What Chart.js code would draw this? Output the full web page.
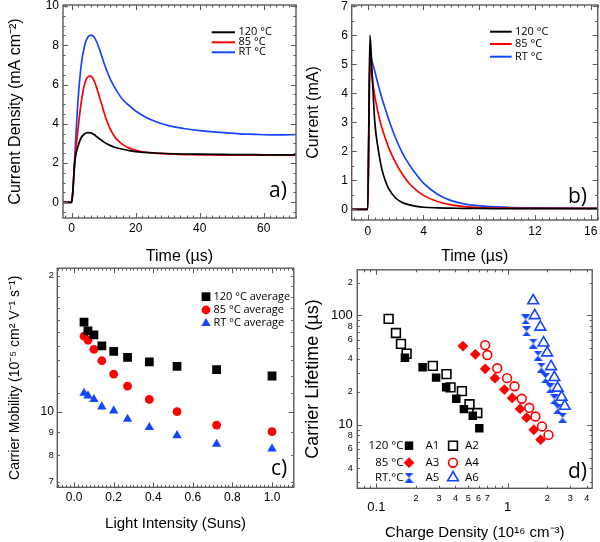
<!DOCTYPE html>
<html>
<head>
<meta charset="utf-8">
<script src="https://cdn.jsdelivr.net/npm/chart.js@4.4.1/dist/chart.umd.min.js"></script>
<style>
  html, body { margin: 0; padding: 0; background: #fff; }
  #wrap { position: relative; width: 600px; height: 542px; overflow: hidden; }
  #wrap canvas { position: absolute; }
</style>
</head>
<body>
<div id="wrap">
  <canvas id="panelA" width="300" height="270" style="left:0;top:0"></canvas>
  <canvas id="panelB" width="300" height="270" style="left:300px;top:0"></canvas>
  <canvas id="panelC" width="300" height="280" style="left:0;top:262px"></canvas>
  <canvas id="panelD" width="300" height="280" style="left:300px;top:262px"></canvas>
</div>
<script>
// ---------- shared names ----------
const SERIES_NAMES = ['120 °C', '85 °C', 'RT °C'];
const C_SERIES_NAMES = ['120 °C average', '85 °C average', 'RT °C average'];
const D_ROW_NAMES = ['120 °C', '85 °C', 'RT.°C'];
const D_SAMPLE_NAMES = ['A1', 'A2', 'A3', 'A4', 'A5', 'A6'];

// ---------- panel a: current density transients ----------
const A_TIME = [-3, 0, 0.3, 1, 2, 3, 4, 5, 6, 7, 8, 9, 10, 11, 12, 13, 14, 16, 18, 20, 23, 26, 30, 35, 40, 45, 50, 55, 60, 65, 70];
const A_J_120 = [0, 0, 0.4, 2.1, 2.85, 3.3, 3.48, 3.55, 3.54, 3.45, 3.32, 3.2, 3.08, 2.98, 2.9, 2.83, 2.78, 2.7, 2.63, 2.58, 2.54, 2.51, 2.48, 2.46, 2.45, 2.44, 2.43, 2.43, 2.42, 2.42, 2.42];
const A_J_85 = [0, 0, 0.4, 2.1, 3.75, 5.1, 6.0, 6.38, 6.43, 6.2, 5.75, 5.2, 4.65, 4.15, 3.75, 3.45, 3.22, 2.94, 2.76, 2.65, 2.55, 2.5, 2.46, 2.43, 2.42, 2.41, 2.4, 2.4, 2.4, 2.4, 2.4];
const A_J_RT = [0, 0, 0.4, 2.4, 5.2, 7.0, 7.95, 8.4, 8.52, 8.42, 8.1, 7.65, 7.15, 6.7, 6.3, 5.98, 5.7, 5.22, 4.92, 4.65, 4.35, 4.13, 3.92, 3.76, 3.65, 3.57, 3.52, 3.47, 3.44, 3.43, 3.45];
const A_X_TICKS = [0, 20, 40, 60];
const A_Y_TICKS = [0, 2, 4, 6, 8, 10];

// ---------- panel b: current transients ----------
const B_TIME = [-1.2, 0, 0.08, 0.16, 0.3, 0.5, 0.75, 1, 1.25, 1.5, 2, 2.5, 3, 3.5, 4, 5, 6, 7, 8, 10, 12, 14, 16.5];
const B_I_120 = [0, 0, 3.0, 6.0, 4.85, 3.05, 2.08, 1.41, 1.0, 0.71, 0.39, 0.23, 0.15, 0.1, 0.07, 0.05, 0.04, 0.03, 0.03, 0.02, 0.02, 0.02, 0.02];
const B_I_85 = [0, 0, 2.6, 5.2, 4.6, 3.93, 3.31, 2.84, 2.47, 2.13, 1.61, 1.2, 0.88, 0.65, 0.48, 0.27, 0.15, 0.09, 0.06, 0.04, 0.03, 0.03, 0.03];
const B_I_RT = [0, 0, 2.7, 5.4, 5.12, 4.78, 4.3, 3.87, 3.48, 3.11, 2.46, 1.93, 1.53, 1.19, 0.9, 0.52, 0.3, 0.18, 0.12, 0.07, 0.05, 0.04, 0.03];
const B_X_TICKS = [0, 4, 8, 12, 16];
const B_Y_TICKS = [0, 1, 2, 3, 4, 5, 6, 7];

// ---------- panel c: mobility vs light intensity ----------
const C_SUNS = [0.05, 0.07, 0.1, 0.14, 0.2, 0.27, 0.38, 0.52, 0.72, 1.0];
const C_MU_120 = [15.8, 15.1, 14.8, 14.0, 13.6, 13.2, 12.9, 12.6, 12.4, 12.0];
const C_MU_85 = [14.7, 14.4, 13.75, 12.97, 12.12, 11.4, 10.65, 10.0, 9.34, 9.03];
const C_MU_RT = [11.0, 10.85, 10.65, 10.26, 10.05, 9.63, 9.23, 8.86, 8.48, 8.28];
const C_X_TICKS = [0, 0.2, 0.4, 0.6, 0.8, 1.0];
const C_X_LABELS = ['0.0', '0.2', '0.4', '0.6', '0.8', '1.0'];
const C_Y_TICKS = [7, 8, 9, 10, 20];
const C_Y_LABELS = ['7', '8', '9', '10', '2'];
const C_Y_BIG = [10];

// ---------- panel d: lifetime vs charge density ----------
const D_A1_N = [0.165, 0.225, 0.285, 0.34, 0.406, 0.464, 0.542, 0.608];
const D_A1_TAU = [41.1, 33.6, 27.0, 22.0, 17.3, 13.9, 12.1, 9.3];
const D_A2_N = [0.124, 0.141, 0.154, 0.170, 0.269, 0.342, 0.367, 0.448, 0.512, 0.587];
const D_A2_TAU = [93.2, 69.2, 55.0, 44.7, 34.6, 29.1, 22.0, 20.3, 15.4, 12.8];
const D_A3_N = [0.456, 0.567, 0.674, 0.80, 0.943, 1.082, 1.242, 1.393, 1.58, 1.78];
const D_A3_TAU = [52.5, 44.1, 32.5, 26.7, 21.0, 17.6, 14.0, 11.6, 9.0, 7.3];
const D_A4_N = [0.674, 0.70, 0.832, 0.988, 1.128, 1.279, 1.46, 1.627, 1.824, 2.045];
const D_A4_TAU = [53.6, 43.5, 32.9, 26.7, 22.5, 17.3, 14.3, 11.9, 9.65, 8.07];
const D_A5_N = [1.37, 1.393, 1.563, 1.703, 1.803, 1.94, 2.10, 2.266, 2.40, 2.618];
const D_A5_TAU = [92.0, 71.7, 55.4, 42.9, 33.4, 26.7, 21.5, 17.1, 14.0, 11.6];
const D_A6_N = [1.563, 1.607, 1.772, 1.876, 2.0, 2.141, 2.266, 2.40, 2.573, 2.72];
const D_A6_TAU = [136.6, 100, 78.4, 56.2, 45.6, 34.1, 27.1, 21.7, 17.9, 14.8];
const D_X_TICKS = [0.1, 0.2, 0.3, 0.4, 0.5, 0.6, 0.7, 1, 2, 3, 4];
const D_X_LABELS = ['0.1', '2', '3', '4', '5', '6', '7', '1', '2', '3', '4'];
const D_X_BIG = [0.1, 1];
const D_Y_TICKS = [4, 6, 8, 10, 20, 40, 60, 80, 100, 200];
const D_Y_LABELS = ['4', '6', '8', '10', '2', '4', '6', '8', '100', '2'];
const D_Y_BIG = [10, 100];

// ---------- styling ----------
const SANS = "'Liberation Sans', Arial, sans-serif";
const LEGEND_SANS = "'Open Sans', 'Liberation Sans', sans-serif";
const FRAME_COLOR = '#5a5a5a';
const BLACK = '#000000';
const RED = '#ff0000';
const BLUE = '#1446ff';
const TICK_FONT = { family: SANS, size: 12, weight: 'normal' };
const SMALL_TICK_FONT = { family: SANS, size: 9, weight: 'normal', lineHeight: 1.2 };
const TITLE_FONT = { family: SANS, size: 16, weight: 'normal' };

Chart.defaults.font.family = SANS;
Chart.defaults.color = '#000';

function range(start, stop, step) {
  const out = [];
  for (let v = start; v <= stop + step / 1000; v += step) out.push(+v.toFixed(6));
  return out;
}

function pts(xs, ys) {
  return xs.map((x, i) => ({ x: x, y: ys[i] }));
}

// hourglass marker used for sample A5
function hourglass(color, w, h) {
  const c = document.createElement('canvas');
  c.width = w; c.height = h;
  const g = c.getContext('2d');
  g.fillStyle = color;
  g.beginPath();
  g.moveTo(0, 0); g.lineTo(w, 0); g.lineTo(w / 2, h / 2);
  g.lineTo(w, h); g.lineTo(0, h); g.lineTo(w / 2, h / 2);
  g.closePath();
  g.fill();
  return c;
}

/**
 * Axis with fixed box size and ticks taken from the given arrays
 */
function axis(o) {
  return {
    type: o.type || 'linear',
    min: o.min,
    max: o.max,
    bounds: 'data',
    grid: { display: false, drawTicks: false, tickLength: 0 },
    border: { display: false },
    afterBuildTicks: s => { s.ticks = o.ticks.map(v => ({ value: v })); },
    afterFit: s => {
      if (s.isHorizontal()) s.height = o.size; else s.width = o.size;
      s.paddingLeft = 0; s.paddingRight = 0; s.paddingTop = 0; s.paddingBottom = 0;
    },
    ticks: {
      autoSkip: false,
      maxRotation: 0,
      minRotation: 0,
      padding: o.tickPad,
      color: '#000',
      font: o.font || TICK_FONT,
      callback: (v, i) => (o.labels ? o.labels[i] : String(o.ticks[i]))
    },
    title: {
      display: true,
      text: o.title,
      color: '#000',
      font: o.titleFont || TITLE_FONT,
      padding: o.titlePad
    }
  };
}

function bigSmall(big, bigFont) {
  return ctx => (ctx.tick && big.includes(ctx.tick.value) ? bigFont : SMALL_TICK_FONT);
}

/**
 * Frame around the plot area with inward ticks on all four sides
 */
const frameTicks = {
  id: 'frameTicks',
  afterDatasetsDraw(chart, args, opts) {
    const { ctx, chartArea: a, scales } = chart;
    const xs = scales.x, ys = scales.y;
    ctx.save();
    ctx.strokeStyle = FRAME_COLOR;
    ctx.lineWidth = 1;
    ctx.beginPath();
    const doX = (vals, len) => vals.forEach(v => {
      if (v < xs.min || v > xs.max) return;
      const p = Math.round(xs.getPixelForValue(v)) + 0.5;
      ctx.moveTo(p, a.bottom); ctx.lineTo(p, a.bottom - len);
      ctx.moveTo(p, a.top); ctx.lineTo(p, a.top + len);
    });
    const doY = (vals, len) => vals.forEach(v => {
      if (v < ys.min || v > ys.max) return;
      const p = Math.round(ys.getPixelForValue(v)) + 0.5;
      ctx.moveTo(a.left, p); ctx.lineTo(a.left + len, p);
      ctx.moveTo(a.right, p); ctx.lineTo(a.right - len, p);
    });
    doX(opts.xMajor || [], 5); doX(opts.xMinor || [], 2.5);
    doY(opts.yMajor || [], 5); doY(opts.yMinor || [], 2.5);
    ctx.stroke();
    ctx.lineWidth = 1.4;
    ctx.strokeRect(a.left, a.top, a.right - a.left, a.bottom - a.top);
    ctx.restore();
  }
};

function drawMarker(ctx, st, x, y) {
  ctx.save();
  ctx.fillStyle = st.fill;
  ctx.strokeStyle = st.stroke;
  ctx.lineWidth = st.bw;
  Chart.helpers.drawPoint(ctx, { pointStyle: st.shape, radius: st.r, rotation: 0, borderWidth: st.bw }, x, y);
  ctx.restore();
}

function panelLabel(ctx, text, x, y) {
  ctx.save();
  ctx.font = "21px " + LEGEND_SANS;
  ctx.fillStyle = '#000';
  ctx.textBaseline = 'alphabetic';
  ctx.fillText(text, x, y);
  ctx.restore();
}

function lineLegend(ctx, colors, x0, x1, tx, rows) {
  ctx.save();
  ctx.font = "11px " + LEGEND_SANS;
  ctx.textBaseline = 'middle';
  SERIES_NAMES.forEach((name, i) => {
    ctx.strokeStyle = colors[i];
    ctx.lineWidth = 2;
    ctx.beginPath(); ctx.moveTo(x0, rows[i]); ctx.lineTo(x1, rows[i]); ctx.stroke();
    ctx.fillStyle = '#000';
    ctx.fillText(name, tx, rows[i]);
  });
  ctx.restore();
}

function lineSet(label, xs, ys, color) {
  return {
    label: label,
    data: pts(xs, ys),
    borderColor: color,
    borderWidth: 1.7,
    pointRadius: 0,
    cubicInterpolationMode: 'monotone',
    fill: false
  };
}

function markerSet(label, xs, ys, st) {
  return {
    label: label,
    data: pts(xs, ys),
    pointStyle: st.shape,
    pointRadius: st.r,
    pointHoverRadius: st.r,
    pointBackgroundColor: st.fill,
    pointBorderColor: st.stroke,
    pointBorderWidth: st.bw
  };
}

const BASE = {
  responsive: false,
  animation: false,
  events: [],
  plugins: { legend: { display: false }, tooltip: { enabled: false } }
};

// ---------- a) ----------
new Chart(document.getElementById('panelA'), {
  type: 'line',
  data: {
    datasets: [
      lineSet(SERIES_NAMES[0], A_TIME, A_J_120, BLACK),
      lineSet(SERIES_NAMES[1], A_TIME, A_J_85, RED),
      lineSet(SERIES_NAMES[2], A_TIME, A_J_RT, BLUE)
    ]
  },
  options: {
    ...BASE,
    layout: { padding: { left: 0, right: 4, top: 5, bottom: 0 } },
    scales: {
      x: axis({ min: -2.7, max: 70.1, ticks: A_X_TICKS, size: 52, tickPad: 3.5, title: 'Time (µs)', titlePad: { top: 0, bottom: 4 } }),
      y: axis({ min: -0.8, max: 10.05, ticks: A_Y_TICKS, size: 63, tickPad: 4, title: 'Current Density (mA cm⁻²)', titlePad: { top: 6, bottom: 0 } })
    },
    plugins: {
      ...BASE.plugins,
      frameTicks: { xMajor: A_X_TICKS, xMinor: range(-2, 70, 2), yMajor: A_Y_TICKS, yMinor: range(-0.5, 10, 0.5) }
    }
  },
  plugins: [frameTicks, {
    id: 'decorA',
    afterDraw(chart) {
      lineLegend(chart.ctx, [BLACK, RED, BLUE], 211.7, 235, 238.5, [32.3, 42.3, 52.3]);
      panelLabel(chart.ctx, 'a)', 269, 197);
    }
  }]
});

// ---------- b) ----------
new Chart(document.getElementById('panelB'), {
  type: 'line',
  data: {
    datasets: [
      lineSet(SERIES_NAMES[0], B_TIME, B_I_120, BLACK),
      lineSet(SERIES_NAMES[1], B_TIME, B_I_85, RED),
      lineSet(SERIES_NAMES[2], B_TIME, B_I_RT, BLUE)
    ]
  },
  options: {
    ...BASE,
    layout: { padding: { left: 0, right: 2.3, top: 5, bottom: 0 } },
    scales: {
      x: axis({ min: -1.15, max: 16.5, ticks: B_X_TICKS, size: 50, tickPad: 4.5, title: 'Time (µs)', titlePad: { top: 0, bottom: 4 } }),
      y: axis({ min: -0.37, max: 7.05, ticks: B_Y_TICKS, size: 51.7, tickPad: 3.7, title: 'Current (mA)', titlePad: { top: 4, bottom: 0 } })
    },
    plugins: {
      ...BASE.plugins,
      frameTicks: { xMajor: B_X_TICKS, xMinor: range(-1, 16.5, 0.5), yMajor: B_Y_TICKS, yMinor: range(0, 7, 0.5) }
    }
  },
  plugins: [frameTicks, {
    id: 'decorB',
    afterDraw(chart) {
      lineLegend(chart.ctx, [BLACK, RED, BLUE], 190, 211.7, 215, [31.7, 44, 56.7]);
      panelLabel(chart.ctx, 'b)', 268, 202.5);
    }
  }]
});

// ---------- c) ----------
const C_STYLES = [
  { shape: 'rect', r: 6.2, fill: BLACK, stroke: BLACK, bw: 0 },
  { shape: 'circle', r: 4.4, fill: RED, stroke: RED, bw: 0 },
  { shape: 'triangle', r: 5.4, fill: BLUE, stroke: BLUE, bw: 0 }
];
new Chart(document.getElementById('panelC'), {
  type: 'scatter',
  data: {
    datasets: [
      markerSet(C_SERIES_NAMES[0], C_SUNS, C_MU_120, C_STYLES[0]),
      markerSet(C_SERIES_NAMES[1], C_SUNS, C_MU_85, C_STYLES[1]),
      markerSet(C_SERIES_NAMES[2], C_SUNS, C_MU_RT, C_STYLES[2])
    ]
  },
  options: {
    ...BASE,
    layout: { padding: { left: 0, right: 2, top: 6, bottom: 0 } },
    scales: {
      x: axis({ min: -0.085, max: 1.11, ticks: C_X_TICKS, labels: C_X_LABELS, size: 54.7, tickPad: 3.5, title: 'Light Intensity (Suns)', titleFont: { family: SANS, size: 15, weight: 'normal' }, titlePad: { top: 0, bottom: 9 } }),
      y: axis({ type: 'logarithmic', min: 6.8, max: 20.8, ticks: C_Y_TICKS, labels: C_Y_LABELS, size: 57.3, tickPad: 3.5, font: bigSmall(C_Y_BIG, TICK_FONT), title: 'Carrier Mobility (10⁻⁵ cm² V⁻¹ s⁻¹)', titleFont: { family: SANS, size: 14, weight: 'normal' }, titlePad: { top: 7, bottom: 0 } })
    },
    plugins: {
      ...BASE.plugins,
      frameTicks: { xMajor: C_X_TICKS, xMinor: range(-0.08, 1.1, 0.02), yMajor: [10], yMinor: range(7, 20, 1) }
    }
  },
  plugins: [frameTicks, {
    id: 'decorC',
    afterDraw(chart) {
      const ctx = chart.ctx;
      const rows = [34.7, 48, 61.3];
      ctx.save();
      ctx.font = "11px " + LEGEND_SANS;
      ctx.textBaseline = 'middle';
      C_SERIES_NAMES.forEach((name, i) => {
        drawMarker(ctx, C_STYLES[i], 206, rows[i]);
        ctx.fillStyle = '#000';
        ctx.fillText(name, 213.5, rows[i]);
      });
      ctx.restore();
      panelLabel(ctx, 'c)', 271, 213);
    }
  }]
});

// ---------- d) ----------
const D_STYLES = [
  { shape: 'rect', r: 6, fill: BLACK, stroke: BLACK, bw: 0 },
  { shape: 'rect', r: 6.2, fill: 'rgba(0,0,0,0)', stroke: BLACK, bw: 1.6 },
  { shape: 'rectRot', r: 5.4, fill: RED, stroke: RED, bw: 0 },
  { shape: 'circle', r: 4.4, fill: 'rgba(0,0,0,0)', stroke: RED, bw: 1.6 },
  { shape: hourglass(BLUE, 9, 10), r: 5, fill: BLUE, stroke: BLUE, bw: 0 },
  { shape: 'triangle', r: 6.2, fill: 'rgba(0,0,0,0)', stroke: BLUE, bw: 1.6 }
];
const D_SERIES = [
  [D_A1_N, D_A1_TAU], [D_A2_N, D_A2_TAU], [D_A3_N, D_A3_TAU],
  [D_A4_N, D_A4_TAU], [D_A5_N, D_A5_TAU], [D_A6_N, D_A6_TAU]
];
new Chart(document.getElementById('panelD'), {
  type: 'scatter',
  data: {
    datasets: D_SERIES.map((s, i) => markerSet(D_SAMPLE_NAMES[i], s[0], s[1], D_STYLES[i]))
  },
  options: {
    ...BASE,
    layout: { padding: { left: 0, right: 3, top: 5, bottom: 0 } },
    scales: {
      x: axis({ type: 'logarithmic', min: 0.0716, max: 4.4, ticks: D_X_TICKS, labels: D_X_LABELS, size: 53.7, tickPad: 4.6, font: bigSmall(D_X_BIG, { family: SANS, size: 13, weight: 'normal', lineHeight: 2.2 }), title: 'Charge Density (10¹⁶ cm⁻³)', titleFont: { family: SANS, size: 15, weight: 'normal' }, titlePad: { top: 0, bottom: 0 } }),
      y: axis({ type: 'logarithmic', min: 2.62, max: 262, ticks: D_Y_TICKS, labels: D_Y_LABELS, size: 57.3, tickPad: 4.5, font: bigSmall(D_Y_BIG, { family: SANS, size: 13, weight: 'normal' }), title: 'Carrier Lifetime (µs)', titleFont: { family: SANS, size: 18, weight: 'normal' }, titlePad: { top: 2, bottom: 0 } })
    },
    plugins: {
      ...BASE.plugins,
      frameTicks: {
        xMajor: [0.1, 1],
        xMinor: [0.08, 0.09, 0.2, 0.3, 0.4, 0.5, 0.6, 0.7, 0.8, 0.9, 2, 3, 4],
        yMajor: [10, 100],
        yMinor: [3, 4, 5, 6, 7, 8, 9, 20, 30, 40, 50, 60, 70, 80, 90, 200]
      }
    }
  },
  plugins: [frameTicks, {
    id: 'decorD',
    afterDraw(chart) {
      const ctx = chart.ctx;
      const rows = [183.7, 200.7, 215.7];
      ctx.save();
      ctx.font = "11.5px " + LEGEND_SANS;
      ctx.textBaseline = 'middle';
      ctx.fillStyle = '#000';
      rows.forEach((y, r) => {
        ctx.textAlign = 'right';
        ctx.fillStyle = '#000';
        ctx.fillText(D_ROW_NAMES[r], 103.5, y);
        drawMarker(ctx, D_STYLES[2 * r], 109, y);
        ctx.textAlign = 'left';
        ctx.fillStyle = '#000';
        ctx.fillText(D_SAMPLE_NAMES[2 * r], 125.5, y);
        drawMarker(ctx, D_STYLES[2 * r + 1], 153, y);
        ctx.fillStyle = '#000';
        ctx.fillText(D_SAMPLE_NAMES[2 * r + 1], 165, y);
      });
      ctx.restore();
      panelLabel(ctx, 'd)', 268, 216);
    }
  }]
});
</script>
</body>
</html>
